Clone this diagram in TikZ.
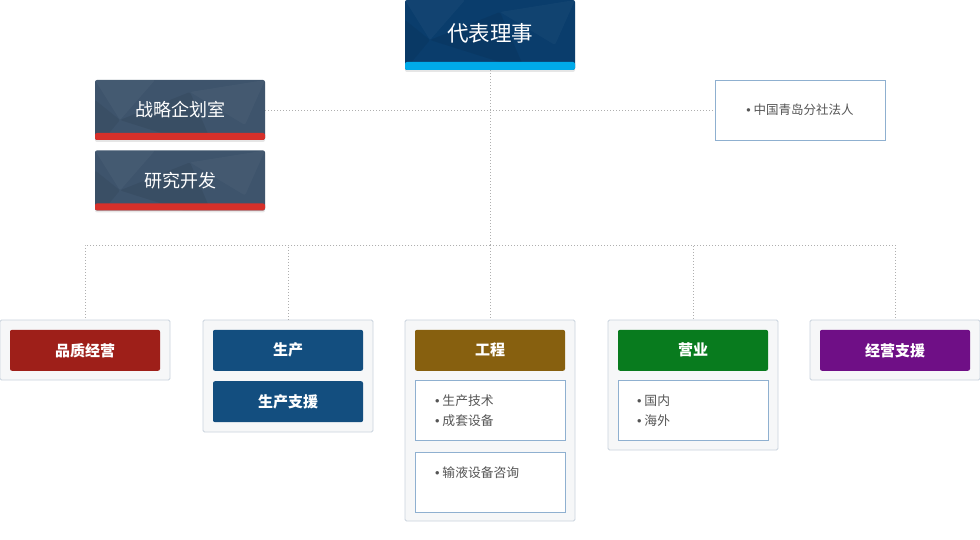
\documentclass[tikz,border=0pt]{standalone}
\usepackage{fontspec}
\setmainfont{Noto Sans CJK SC}
\newfontfamily\bulletfont{Liberation Sans}
\usetikzlibrary{positioning,shadows}
\definecolor{colCeo}{HTML}{0A3D6C}
\definecolor{colCeoStrip}{HTML}{00AAE9}
\definecolor{colSide}{HTML}{3E546C}
\definecolor{colSideStrip}{HTML}{D6302A}
\definecolor{colSub}{HTML}{8FB0D0}
\definecolor{colColFill}{HTML}{F6F7F8}
\definecolor{colColDraw}{HTML}{C9D3DD}
\definecolor{colQm}{HTML}{9E1F19}
\definecolor{colProd}{HTML}{134E7F}
\definecolor{colEng}{HTML}{87600F}
\definecolor{colSales}{HTML}{087B1E}
\definecolor{colMgmt}{HTML}{6F0F86}
\definecolor{colText}{HTML}{555555}
\definecolor{colLink}{HTML}{AFAFAF}
\newcommand{\itm}{{\bulletfont •}\hspace{3pt}}
% faint low-poly facets on the dark boxes
\newcommand{\facets}{%
  \fill[white, opacity=0.035] ([shift={(0,0)}]path picture bounding box.north west)
    -- ([shift={(60,0)}]path picture bounding box.north west)
    -- ([shift={(25,40)}]path picture bounding box.north west) -- cycle;
  \fill[black, opacity=0.07] ([shift={(25,40)}]path picture bounding box.north west)
    -- ([shift={(95,12)}]path picture bounding box.north west)
    -- ([shift={(120,70)}]path picture bounding box.north west) -- cycle;
  \fill[white, opacity=0.03] ([shift={(95,12)}]path picture bounding box.north west)
    -- ([shift={(170,0)}]path picture bounding box.north west)
    -- ([shift={(150,45)}]path picture bounding box.north west) -- cycle;
  \fill[black, opacity=0.06] ([shift={(0,20)}]path picture bounding box.north west)
    -- ([shift={(25,40)}]path picture bounding box.north west)
    -- ([shift={(0,70)}]path picture bounding box.north west) -- cycle;
}
\tikzset{
  topbox/.style  = {rectangle, rounded corners=2pt, fill=colCeo, text=white,
                    minimum width=170pt, minimum height=70pt,
                    font=\fontsize{21.5}{24}\selectfont,
                    drop shadow={opacity=0.2, shadow xshift=0pt, shadow yshift=-2pt},
                    path picture={\facets
                      \fill[colCeoStrip] (path picture bounding box.south west)
                      rectangle ([yshift=8pt]path picture bounding box.south east);}},
  sidebox/.style = {rectangle, rounded corners=2pt, fill=colSide, text=white,
                    minimum width=170pt, minimum height=60pt,
                    font=\fontsize{18}{20}\selectfont,
                    drop shadow={opacity=0.2, shadow xshift=0pt, shadow yshift=-2pt},
                    path picture={\facets
                      \fill[colSideStrip] (path picture bounding box.south west)
                      rectangle ([yshift=7pt]path picture bounding box.south east);}},
  branchbox/.style = {rectangle, draw=colSub, fill=white, line width=0.8pt,
                    minimum width=170pt, minimum height=60pt, text=colText,
                    font=\fontsize{12.5}{15}\selectfont},
  colbox/.style  = {rectangle, rounded corners=1.5pt, draw=colColDraw, fill=colColFill,
                    line width=0.8pt, minimum width=170pt},
  headbox/.style = {rectangle, rounded corners=2pt, text=white, anchor=north,
                    minimum width=150pt, minimum height=41pt,
                    font=\bfseries\fontsize{15}{17}\selectfont},
  subbox/.style  = {rectangle, draw=colSub, fill=white, line width=0.8pt,
                    minimum width=150pt, minimum height=60pt, text=colText,
                    text width=110pt, inner xsep=20pt, align=left,
                    font=\fontsize{12.8}{20}\selectfont},
  link/.style    = {draw=colLink, line width=0.8pt, dash pattern=on 1pt off 2pt},
}
\begin{document}
\begin{tikzpicture}[x=1pt, y=-1pt]
\useasboundingbox (0,0) rectangle (980,540);

%% head office
\node[topbox] (ceo) at (490,35) {\raisebox{5pt}{代表理事}};
\node[sidebox] (plan) at (180,110) {\raisebox{2pt}{战略企划室}};
\node[sidebox, below=10pt of plan] (rnd) {\raisebox{2pt}{研究开发}};
\node[branchbox] (branch) at (800,110) {\itm 中国青岛分社法人};

%% departments
\node[colbox, minimum height=60pt]  (qm)    at (85,350)    {};
\node[colbox, minimum height=112pt] (prod)  at (288,376)   {};
\node[colbox, minimum height=201pt] (eng)   at (490,420.5) {};
\node[colbox, minimum height=130pt] (sales) at (693,385)   {};
\node[colbox, minimum height=60pt]  (mgmt)  at (895,350)   {};

\node[headbox, fill=colQm, below=10pt of qm.north]       (qmhead)    {品质经营};
\node[headbox, fill=colProd, below=10pt of prod.north]   (prodhead)  {生产};
\node[headbox, fill=colProd, below=10pt of prodhead]     (prodsup)   {生产支援};
\node[headbox, fill=colEng, below=10pt of eng.north]     (enghead)   {工程};
\node[subbox, below=9pt of enghead]                      (engtech)   {\itm 生产技术\\\itm 成套设备};
\node[subbox, below=11pt of engtech]                     (engcons)   {\itm 输液设备咨询\\~};
\node[headbox, fill=colSales, below=10pt of sales.north] (saleshead) {营业};
\node[subbox, below=9pt of saleshead, inner xsep=19pt, text width=112pt]
  (salesarea) {\itm 国内\\\itm 海外};
\node[headbox, fill=colMgmt, below=10pt of mgmt.north]   (mgmthead)  {经营支援};

%% links
\coordinate (bus) at (490,245);
\draw[link] (ceo.south)  -- (bus);
\draw[link] (plan.east)  -- (branch.west);
\draw[link] (bus) -| (qm.north);
\draw[link] (bus) -| (prod.north);
\draw[link] (bus) -- (eng.north);
\draw[link] (bus) -| (sales.north);
\draw[link] (bus) -| (mgmt.north);

\end{tikzpicture}
\end{document}
